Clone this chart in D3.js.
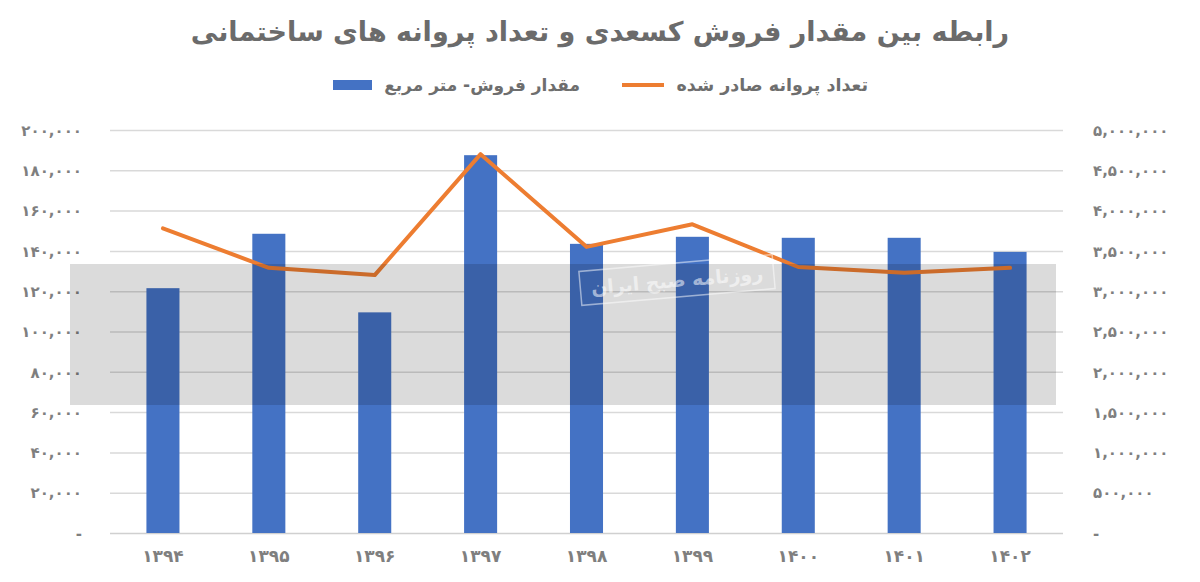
<!DOCTYPE html>
<html>
<head>
<meta charset="utf-8">
<script src="https://cdn.jsdelivr.net/npm/d3@7"></script>
<style>
  html, body { margin: 0; padding: 0; background: #fff; }
  svg { display: block; }
  text { font-family: "DejaVu Sans", "Noto Sans", sans-serif; }
</style>
</head>
<body>
<svg id="chart" width="1200" height="582"></svg>
<script>
// ---- data ----
const years = ["1394", "1395", "1396", "1397", "1398", "1399", "1400", "1401", "1402"];
const salesArea = [121500, 148500, 109500, 187500, 143500, 147000, 146500, 146500, 139500];
const permits = [3780000, 3290000, 3200000, 4700000, 3550000, 3830000, 3300000, 3230000, 3290000];
const leftTicks = [0, 20000, 40000, 60000, 80000, 100000, 120000, 140000, 160000, 180000, 200000];
const rightTicks = [0, 500000, 1000000, 1500000, 2000000, 2500000, 3000000, 3500000, 4000000, 4500000, 5000000];
const titleText = "رابطه بین مقدار فروش کسعدی و تعداد پروانه های ساختمانی";
const barSeriesName = "مقدار فروش- متر مربع";
const lineSeriesName = "تعداد پروانه صادر شده";

// ---- helpers ----
const faDigits = "۰۱۲۳۴۵۶۷۸۹";
const toFa = s => String(s).replace(/[0-9]/g, d => faDigits[+d]);
const fmt = v => v === 0 ? "-" : toFa(d3.format(",")(v));

const svg = d3.select("#chart");
const W = 1200, H = 582;
const plotL = 110, plotR = 1063, plotT = 130, plotB = 533;

const x = d3.scaleBand().domain(years).range([plotL, plotR]).paddingInner(0.688).paddingOuter(0.344);
const yL = d3.scaleLinear().domain([0, 200000]).range([plotB, plotT]);
const yR = d3.scaleLinear().domain([0, 5000000]).range([plotB, plotT]);

// title
svg.append("text")
  .attr("x", W / 2).attr("y", 41)
  .attr("text-anchor", "middle")
  .attr("direction", "rtl")
  .attr("font-size", 27).attr("font-weight", "bold")
  .attr("fill", "#6b6b6b")
  .text(titleText);

// legend
const lg = svg.append("g");
lg.append("line").attr("x1", 622).attr("x2", 664).attr("y1", 85).attr("y2", 85)
  .attr("stroke", "#ED7D31").attr("stroke-width", 4);
lg.append("text").attr("x", 868).attr("y", 91).attr("text-anchor", "start")
  .attr("direction", "rtl").attr("font-size", 17.5).attr("font-weight", "bold").attr("fill", "#6e6e6e")
  .text(lineSeriesName);
lg.append("rect").attr("x", 333).attr("y", 80).attr("width", 39).attr("height", 10).attr("fill", "#4472C4");
lg.append("text").attr("x", 580).attr("y", 91).attr("text-anchor", "start")
  .attr("direction", "rtl").attr("font-size", 17).attr("font-weight", "bold").attr("fill", "#6e6e6e")
  .text(barSeriesName);

// gridlines
svg.append("g").selectAll("line").data(leftTicks.slice(1)).join("line")
  .attr("x1", plotL).attr("x2", plotR)
  .attr("y1", d => yL(d) + 0.5).attr("y2", d => yL(d) + 0.5)
  .attr("stroke", "#d9d9d9").attr("stroke-width", 1.5);
svg.append("line").attr("x1", plotL).attr("x2", plotR).attr("y1", plotB + 0.5).attr("y2", plotB + 0.5)
  .attr("stroke", "#d0d0d0").attr("stroke-width", 1.5);

// left axis
const axL = d3.axisLeft(yL).tickValues(leftTicks).tickFormat(fmt).tickSize(0).tickPadding(0);
const gL = svg.append("g").attr("transform", "translate(82,0)").call(axL);
gL.select(".domain").remove();
gL.selectAll("text").attr("font-size", 15).attr("font-weight", "bold").attr("fill", "#7f7f7f")
  .attr("font-family", "DejaVu Sans").attr("dy", "0.35em");

// right axis
const axR = d3.axisRight(yR).tickValues(rightTicks).tickFormat(fmt).tickSize(0).tickPadding(0);
const gR = svg.append("g").attr("transform", "translate(1093,0)").call(axR);
gR.select(".domain").remove();
gR.selectAll("text").attr("font-size", 15).attr("font-weight", "bold").attr("fill", "#7f7f7f")
  .attr("font-family", "DejaVu Sans").attr("dy", "0.35em");

// x axis
const axX = d3.axisBottom(x).tickFormat(toFa).tickSize(0).tickPadding(0);
const gX = svg.append("g").attr("transform", "translate(0,550)").call(axX);
gX.select(".domain").remove();
gX.selectAll("text").attr("font-size", 17).attr("font-weight", "bold").attr("fill", "#7f7f7f")
  .attr("font-family", "DejaVu Sans");

// bars
svg.append("g").selectAll("rect").data(years).join("rect")
  .attr("x", d => x(d))
  .attr("width", x.bandwidth())
  .attr("y", (d, i) => yL(salesArea[i]))
  .attr("height", (d, i) => plotB - yL(salesArea[i]))
  .attr("fill", "#4472C4");

// line
const line = d3.line().x((d, i) => x(years[i]) + x.bandwidth() / 2).y(d => yR(d));
svg.append("path").datum(permits).attr("d", line)
  .attr("fill", "none").attr("stroke", "#ED7D31").attr("stroke-width", 4)
  .attr("stroke-linejoin", "round").attr("stroke-linecap", "round");

// watermark: grey band
const wm = svg.append("g");
wm.append("rect").attr("x", 70).attr("y", 264).attr("width", 986).attr("height", 141)
  .attr("fill", "#000").attr("opacity", 0.14);
// small stamp
const st = wm.append("g").attr("transform", "translate(677,280) rotate(-5)");
st.append("rect").attr("x", -97).attr("y", -17).attr("width", 194).attr("height", 34)
  .attr("fill", "none").attr("stroke", "#ffffff").attr("stroke-opacity", 0.5).attr("stroke-width", 1.5);
st.append("text").attr("x", 0).attr("y", 7).attr("text-anchor", "middle").attr("direction", "rtl")
  .attr("font-size", 19).attr("font-weight", "bold").attr("fill", "#ffffff").attr("fill-opacity", 0.55)
  .text("روزنامه صبح ایران");
</script>
</body>
</html>
